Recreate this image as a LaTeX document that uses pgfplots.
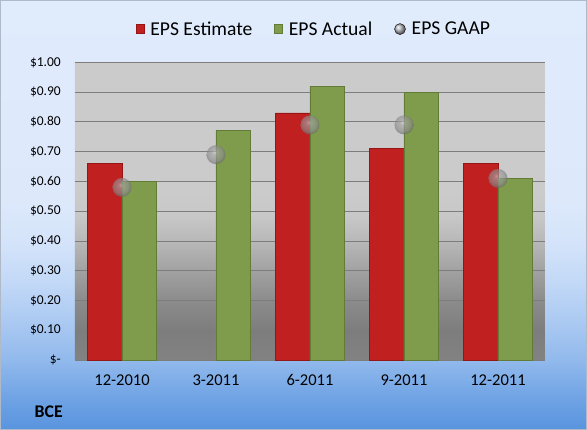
\documentclass[border=0pt]{standalone}
\usepackage{pgfplots}
\pgfplotsset{compat=1.18}
\usepackage{fontspec}
\setmainfont{Carlito}
\definecolor{barred}{RGB}{192,32,32}
\definecolor{barreddk}{RGB}{150,22,22}
\definecolor{bargreen}{RGB}{127,155,76}
\definecolor{bargreendk}{RGB}{98,124,56}
\definecolor{gridc}{RGB}{125,125,125}
\definecolor{framec}{RGB}{175,185,200}
\definecolor{legballc}{RGB}{185,185,195}
\definecolor{sb0}{RGB}{205,205,205}
\definecolor{sb1}{RGB}{165,165,165}
\definecolor{sb2}{RGB}{140,140,140}
\definecolor{sb3}{RGB}{105,105,105}
\definecolor{ob0}{RGB}{88,148,222}
\definecolor{ob1}{RGB}{110,162,228}
\definecolor{ob2}{RGB}{145,185,236}
\definecolor{ob3}{RGB}{172,202,242}
\definecolor{ob4}{RGB}{195,217,247}
\definecolor{ob5}{RGB}{213,228,250}
\definecolor{ob6}{RGB}{221,233,251}
\definecolor{ob7}{RGB}{224,235,252}
\definecolor{pb0}{RGB}{130,130,130}
\definecolor{pb1}{RGB}{125,125,125}
\definecolor{pb2}{RGB}{140,140,140}
\definecolor{pb3}{RGB}{162,162,162}
\definecolor{pb4}{RGB}{185,185,185}
\definecolor{pb5}{RGB}{200,200,200}
\definecolor{pb6}{RGB}{203,203,203}
\pgfdeclareverticalshading{outerbg}{100bp}{color(0bp)=(ob0); color(25bp)=(ob0); color(28.5bp)=(ob1); color(33.1bp)=(ob2); color(37.8bp)=(ob3); color(42.4bp)=(ob4); color(47.1bp)=(ob5); color(51.7bp)=(ob6); color(75bp)=(ob7); color(100bp)=(ob7)}
\pgfdeclareverticalshading{plotbg}{100bp}{color(0bp)=(pb0); color(25bp)=(pb0); color(30bp)=(pb1); color(35.1bp)=(pb2); color(40.1bp)=(pb3); color(45.2bp)=(pb4); color(49.4bp)=(pb5); color(53.6bp)=(pb6); color(75bp)=(pb6); color(100bp)=(pb6)}
\pgfdeclareradialshading{softball}{\pgfpoint{-5bp}{7bp}}{color(0bp)=(sb0); color(6bp)=(sb1); color(20bp)=(sb2); color(27bp)=(sb3); color(50bp)=(sb3)}
\pgfdeclareplotmark{softball}{%
  \pgfpathcircle{\pgfpointorigin}{\pgfplotmarksize}%
  \pgfshadepath{softball}{0}%
  \pgfusepath{}}
\begin{document}
\begin{tikzpicture}[x=1pt,y=1pt]
\shade[shading=outerbg] (0,0) rectangle (587,430);
\draw[framec, line width=1pt] (0.5,0.5) rectangle (586.5,429.5);
\begin{axis}[
  at={(75pt,70pt)}, anchor=south west,
  scale only axis, width=470pt, height=297.6pt,
  xmin=-0.5, xmax=4.5, ymin=0, ymax=1,
  axis line style={draw=none},
  tick style={draw=none},
  axis background/.style={shading=plotbg},
  ymajorgrids, major grid style={draw=gridc, line width=0.9pt},
  ytick={0,0.1,0.2,0.3,0.4,0.5,0.6,0.7,0.8,0.9,1},
  yticklabels={\$-\hspace{8pt},\$0.10,\$0.20,\$0.30,\$0.40,\$0.50,\$0.60,\$0.70,\$0.80,\$0.90,\$1.00},
  yticklabel style={font=\fontsize{13.5}{14}\selectfont, anchor=east, inner sep=0pt, xshift=-14pt},
  xtick={0,1,2,3,4},
  xticklabels={12-2010,3-2011,6-2011,9-2011,12-2011},
  xticklabel style={font=\fontsize{16.5}{18}\selectfont, anchor=north, inner sep=0pt, yshift=-14.5pt},
  legend style={at={(0.5085,1.112)}, anchor=center, draw=none, fill=none,
    legend columns=3, font=\fontsize{19.6}{21}\selectfont,
    /tikz/every odd column/.append style={column sep=4pt},
    /tikz/every even column/.append style={column sep=20pt}},
  clip=false,
]
\addlegendimage{legend image code/.code={\draw[fill=barred, draw=barreddk] (0pt,-4.5pt) rectangle (8pt,4.5pt);}}
\addlegendentry{EPS Estimate}
\addlegendimage{legend image code/.code={\draw[fill=bargreen, draw=bargreendk] (0pt,-4.5pt) rectangle (8pt,4.5pt);}}
\addlegendentry{EPS Actual}
\addlegendimage{legend image code/.code={\shade[ball color=legballc] (5pt,0pt) circle (5.5pt);}}
\addlegendentry{EPS GAAP}
% EPS Estimate
\addplot[forget plot, ybar, bar width=34.7pt, bar shift=-17.35pt, fill=barred, draw=barreddk, line width=0.8pt]
  coordinates {(0,0.66) (2,0.83) (3,0.71) (4,0.66)};
% EPS Actual
\addplot[forget plot, ybar, bar width=34.7pt, bar shift=17.35pt, fill=bargreen, draw=bargreendk, line width=0.8pt]
  coordinates {(0,0.60) (1,0.77) (2,0.92) (3,0.90) (4,0.61)};
% EPS GAAP
\addplot[forget plot, only marks, mark=softball, mark size=9.5pt,
  mark options={opacity=0.65}]
  coordinates {(0,0.58) (1,0.69) (2,0.79) (3,0.79) (4,0.61)};
\end{axis}
\node[anchor=west, inner sep=0pt, font=\fontsize{17.8}{19}\selectfont\bfseries] at (34.5,18) {BCE};
\pgfresetboundingbox
\useasboundingbox (0,0) rectangle (587,430);
\end{tikzpicture}
\end{document}
